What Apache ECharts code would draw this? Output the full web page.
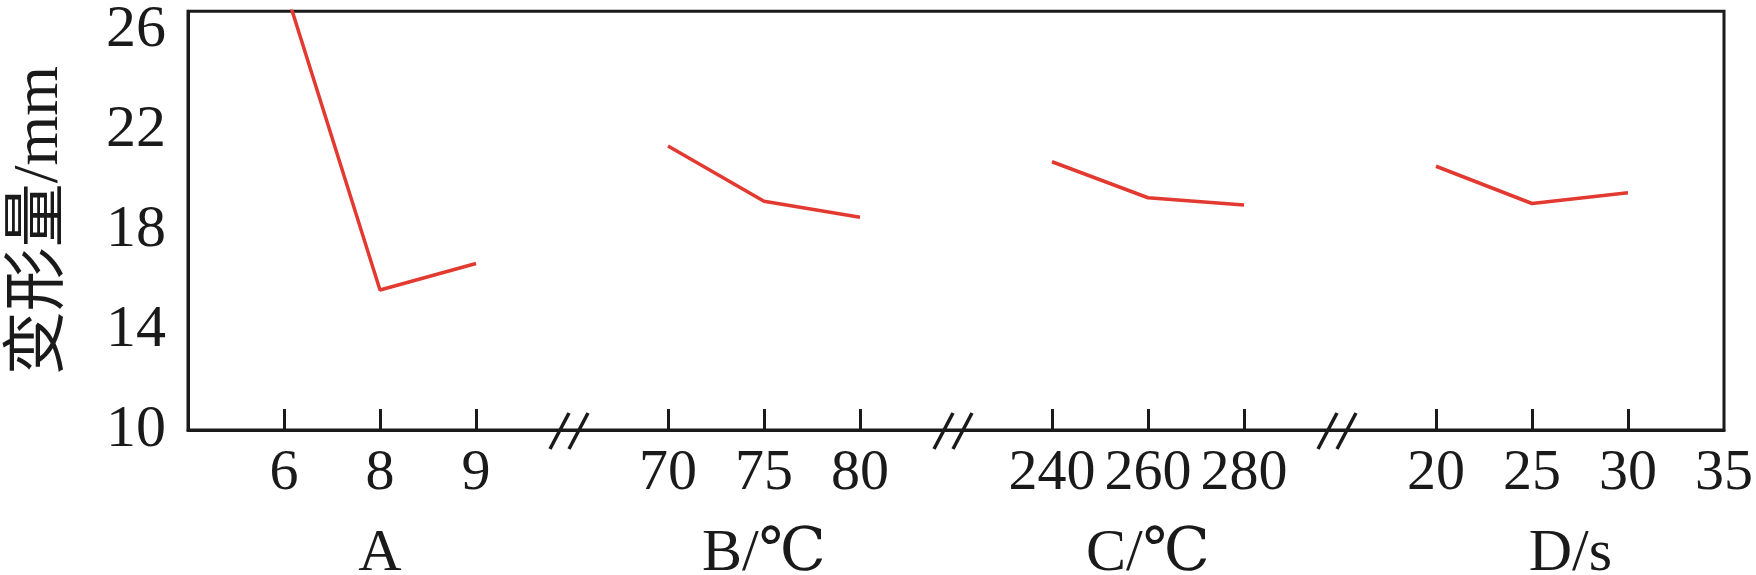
<!DOCTYPE html>
<html><head><meta charset="utf-8">
<script src="https://cdn.jsdelivr.net/npm/echarts@6/dist/echarts.min.js"></script>
<style>html,body{margin:0;padding:0;background:#fff}#c{width:1756px;height:575px}</style>
</head><body><div id="c"></div>
<script>
// factor levels (tick labels) and deformation values
const levelsA = ['6', '8', '9'];
const levelsB = ['70', '75', '80'];
const levelsC = ['240', '260', '280'];
const levelsD = ['20', '25', '30', '35'];
const valuesA = [27.8, 15.6, 16.66];
const valuesB = [21.36, 19.15, 18.51];
const valuesC = [20.73, 19.29, 19.0];
const valuesD = [20.55, 19.06, 19.49, null];
const groupNames = ['A', 'B/℃', 'C/℃', 'D/s'];
const yTicks = [10, 14, 18, 22, 26];

// build category axis with empty slots for axis breaks
const categories = [''].concat(levelsA, [''], levelsB, [''], levelsC, [''], levelsD);
const seriesData = [null].concat(valuesA, [null], valuesB, [null], valuesC, [null], valuesD);
const breakIdx = [4, 8, 12];
const groupCenters = [2, 6, 10, 14.4];

const FONT = '"Liberation Serif", "DejaVu Serif", "Noto Sans CJK SC", serif';
const INK = '#1a1a1a';
const chart = echarts.init(document.getElementById('c'), null, {renderer: 'canvas'});
chart.setOption({
  animation: false,
  grid: {left: 186, right: 21, top: 5, bottom: 145, show: true, borderColor: INK, borderWidth: 3, backgroundColor: 'transparent'},
  xAxis: {
    type: 'category', data: categories, boundaryGap: false,
    axisLine: {lineStyle: {color: INK, width: 3}},
    axisTick: {inside: true, length: 21, lineStyle: {color: INK, width: 3},
      interval: function (i, v) { return v !== '' && i !== categories.length - 1; }},
    axisLabel: {interval: 0, color: INK, fontFamily: FONT, fontSize: 58, margin: 15},
    splitLine: {show: false}
  },
  yAxis: {
    type: 'value', min: yTicks[0], max: 26.75, interval: 4,
    axisLine: {show: true, lineStyle: {color: INK, width: 3}},
    axisTick: {inside: true, length: 21, lineStyle: {color: INK, width: 3}},
    axisLabel: {color: INK, fontFamily: FONT, fontSize: 60, margin: 22,
      formatter: function (v) { return yTicks.indexOf(v) >= 0 ? String(v) : ''; }},
    splitLine: {show: false},
    name: '变形量/mm', nameLocation: 'middle', nameRotate: 90, nameGap: 116,
    nameTextStyle: {color: INK, fontFamily: FONT, fontSize: 64}
  },
  series: [{
    type: 'line', data: seriesData, connectNulls: false, showSymbol: false, symbol: 'none',
    lineStyle: {color: '#e23a30', width: 3.5}, clip: true
  }]
});

function drawExtras() {
  const g = [];
  const y0 = chart.convertToPixel({yAxisIndex: 0}, yTicks[0]);
  breakIdx.forEach(function (i) {
    const cx = chart.convertToPixel({xAxisIndex: 0}, i) - 2;
    g.push({type: 'line', shape: {x1: cx - 20, y1: y0 + 19, x2: cx - 1, y2: y0 - 17}, style: {stroke: INK, lineWidth: 3.5}, z: 10});
    g.push({type: 'line', shape: {x1: cx - 1, y1: y0 + 19, x2: cx + 18, y2: y0 - 17}, style: {stroke: INK, lineWidth: 3.5}, z: 10});
  });
  groupNames.forEach(function (n, k) {
    const c = groupCenters[k];
    const a = chart.convertToPixel({xAxisIndex: 0}, Math.floor(c));
    const b = chart.convertToPixel({xAxisIndex: 0}, Math.ceil(c));
    const x = a + (b - a) * (c - Math.floor(c));
    g.push({type: 'text', x: x, y: 584, style: {text: n, fill: INK, font: '60px ' + FONT, textAlign: 'center', textVerticalAlign: 'bottom'}, z: 10});
  });
  chart.setOption({graphic: g});
}
drawExtras();
</script></body></html>
